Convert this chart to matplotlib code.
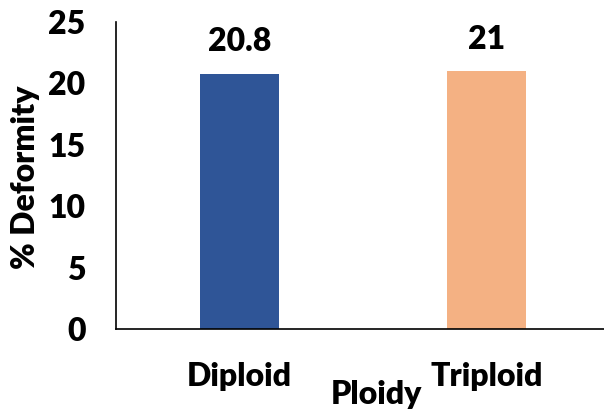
import matplotlib.pyplot as plt

# data
categories = ['Diploid', 'Triploid']
deformity = [20.8, 21]
bar_colors = ['#2F5597', '#F4B183']
value_labels = ['20.8', '21']

FS = 23
plt.rcParams['font.family'] = ['Lato', 'DejaVu Sans']
plt.rcParams['font.weight'] = 'heavy'

fig = plt.figure(figsize=(6.04, 4.09), dpi=100)
ax = fig.add_axes([0.192, 0.1956, 0.818, 0.7506])

x = range(len(categories))
bars = ax.bar(x, deformity, width=0.316, color=bar_colors)

for b, lab in zip(bars, value_labels):
    ax.annotate(lab, (b.get_x() + b.get_width() / 2, b.get_height()),
                xytext=(0, 16), textcoords='offset points',
                ha='center', va='baseline', fontsize=FS, fontweight='heavy')

ax.set_xlim(-0.5, 1.5)
ax.set_ylim(0, 25)
ax.set_yticks([0, 5, 10, 15, 20, 25])
ax.set_xticks(list(x))
ax.set_xticklabels(categories)

ax.tick_params(axis='both', length=0, labelsize=FS)
ax.tick_params(axis='y', pad=22)
ax.tick_params(axis='x', pad=24)
for t in ax.get_xticklabels() + ax.get_yticklabels():
    t.set_fontweight('heavy')

for s in ['top', 'right']:
    ax.spines[s].set_visible(False)
for s in ['left', 'bottom']:
    ax.spines[s].set_color('#000000')
    ax.spines[s].set_linewidth(1.2)

ax.set_ylabel('% Deformity', fontsize=FS, fontweight='heavy', va='center')
ax.yaxis.set_label_coords(-0.184, 0.495)
ax.set_xlabel('Ploidy', fontsize=FS, fontweight='heavy', va='center')
ax.xaxis.set_label_coords(0.528, -0.212)

fig.savefig('out.png', dpi=100)
